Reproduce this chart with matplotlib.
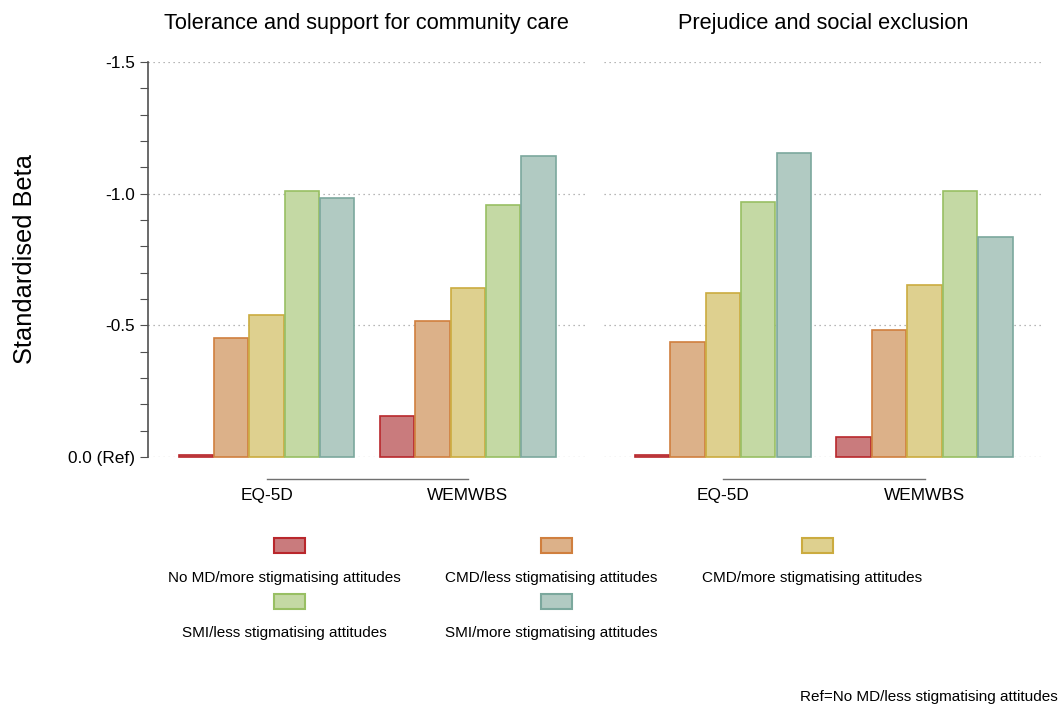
import numpy as np
import matplotlib
matplotlib.use('Agg')
import matplotlib.pyplot as plt
from matplotlib.patches import Rectangle
import matplotlib.transforms as mtransforms

plt.rcParams['font.family'] = ['Liberation Sans', 'DejaVu Sans']

# Data
panels = ['Tolerance and support for community care', 'Prejudice and social exclusion']
outcomes = ['EQ-5D', 'WEMWBS']
groups = ['No MD/more stigmatising attitudes', 'CMD/less stigmatising attitudes',
          'CMD/more stigmatising attitudes', 'SMI/less stigmatising attitudes',
          'SMI/more stigmatising attitudes']
tolerance_eq5d = [-0.006, -0.451, -0.538, -1.011, -0.985]
tolerance_wemwbs = [-0.155, -0.515, -0.640, -0.958, -1.144]
prejudice_eq5d = [-0.006, -0.437, -0.624, -0.967, -1.155]
prejudice_wemwbs = [-0.075, -0.484, -0.652, -1.010, -0.837]
panel_values = [[tolerance_eq5d, tolerance_wemwbs], [prejudice_eq5d, prejudice_wemwbs]]

fills = ['#c97b7d', '#dcb189', '#ded08f', '#c4d9a4', '#b1cac2']
edges = ['#b9272c', '#d07f3e', '#cbab3f', '#98bf63', '#7ba89d']

yticks = [-1.5, -1.0, -0.5, 0.0]
yticklabels = ['-1.5', '-1.0', '-0.5', '0.0 (Ref)']

fig = plt.figure(figsize=(10.64, 7.06), dpi=100)
ax_pos = [[0.1391, 0.3527, 0.4107, 0.5595], [0.5677, 0.3527, 0.4116, 0.5595]]
group_centers = np.array([0.0, 5.69])
offsets = np.arange(5) - 2

for p in range(2):
    ax = fig.add_axes(ax_pos[p])
    for g in range(2):
        for i in range(5):
            ax.bar(group_centers[g] + offsets[i], panel_values[p][g][i], width=0.97,
                   color=fills[i], edgecolor=edges[i], linewidth=1.2, clip_on=False, zorder=3)
    ax.set_xlim(-3.35, 9.0)
    ax.set_ylim(0, -1.5)
    ax.set_yticks(yticks)
    for y in yticks:
        ax.axhline(y, color='#a0a0a0', linestyle=(0, (1, 3)), linewidth=0.9, zorder=1)
    for s in ['top', 'right', 'bottom']:
        ax.spines[s].set_visible(False)
    ax.set_xticks([])
    ax.set_title(panels[p], fontsize=15.7, pad=24)
    if p == 0:
        ax.set_yticklabels(yticklabels, fontsize=12.4)
        ax.set_yticks(np.arange(-1.5, 0.01, 0.1), minor=True)
        ax.tick_params(axis='y', which='both', length=6, width=0.8, color='#505050')
        ax.spines['left'].set_color('#505050')
        ax.spines['left'].set_linewidth(1.2)
        ax.set_ylabel('Standardised Beta', fontsize=18.3, labelpad=22)
    else:
        ax.spines['left'].set_visible(False)
        ax.set_yticks([])
        ax.set_yticks([], minor=True)
    # bracket line and outcome labels below axis
    trans = mtransforms.blended_transform_factory(ax.transData, ax.transAxes)
    ax.plot(group_centers, [-0.055, -0.055], color='#707070', linewidth=1.0,
            transform=trans, clip_on=False)
    for g in range(2):
        ax.text(group_centers[g], -0.097, outcomes[g], transform=trans,
                ha='center', va='center', fontsize=12.4)

# Legend (Stata style: key above label, 3 columns)
col_x = [284 / 1064, 551 / 1064, 812 / 1064]
key_x = [289 / 1064, 556 / 1064, 817 / 1064]
row_key_y = [545, 601]
row_txt_y = [578, 633]
kw, kh = 31 / 1064, 15 / 706
for k in range(5):
    r, c = divmod(k, 3)
    fig.add_artist(Rectangle((key_x[c] - kw / 2, 1 - row_key_y[r] / 706 - kh / 2), kw, kh,
                             facecolor=fills[k], edgecolor=edges[k], linewidth=1.5,
                             transform=fig.transFigure))
    fig.text(col_x[c], 1 - row_txt_y[r] / 706, groups[k], ha='center', va='center', fontsize=11)

fig.text(1058 / 1064, 1 - 697 / 706, 'Ref=No MD/less stigmatising attitudes',
         ha='right', va='center', fontsize=11)

fig.savefig('out.png', dpi=100, facecolor='white')
